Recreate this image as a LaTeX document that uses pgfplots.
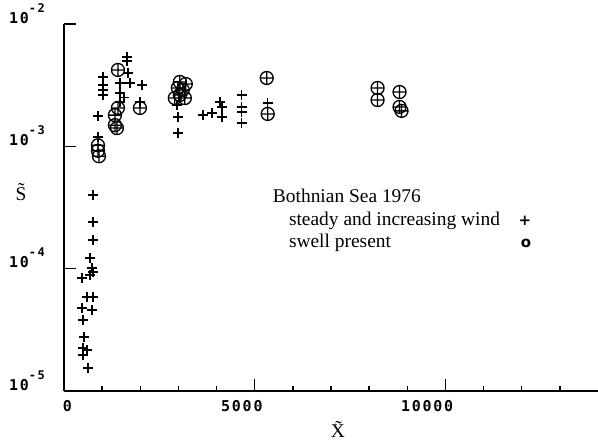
\documentclass[border=0pt]{standalone}
\usepackage{pgfplots}
\pgfplotsset{compat=1.18}
\usepackage{fontspec}
\setmainfont{Liberation Serif}
\newfontfamily\tickfont{DejaVu Sans Mono}[LetterSpace=12]
\newfontfamily\symfont{DejaVu Sans}
\newcommand\tkf{\tickfont\bfseries\fontsize{15}{15}\selectfont}
\newcommand\expo[1]{\raisebox{11bp}{\fontsize{12}{12}\selectfont #1}}
\newcommand\legf{\fontsize{19.5}{23}\selectfont}
\newcommand\symf{\symfont\bfseries\fontsize{15}{15}\selectfont}
\begin{document}
\begin{tikzpicture}
\begin{axis}[
  scale only axis, width=534bp, height=367bp,
  ymode=log, xmin=0, xmax=14000, ymin=1e-5, ymax=1e-2,
  axis lines*=left,
  axis line style={line width=1.6bp},
  tick style={line width=1.4bp, black},
  major tick length=12bp, minor tick length=5bp,
  scaled x ticks=false,
  xtick={0,5000,10000},
  minor xtick={1000,2000,3000,4000,6000,7000,8000,9000,11000,12000,13000},
  ytick={1e-5,1e-4,1e-3,1e-2}, yminorticks=false,
  xticklabels={{\tkf 0},{\tkf 5000},{\tkf 10000}},
  yticklabels={{\tkf 10\expo{-5}},{\tkf 10\expo{-4}},{\tkf 10\expo{-3}},{\tkf 10\expo{-2}}},
  xticklabel style={anchor=north east, inner sep=0pt, xshift=8bp, yshift=-9bp},
  yticklabel style={anchor=base east, inner sep=0pt, xshift=-19bp, yshift=1bp},
  clip=false,
]
\addplot[only marks, mark=+, mark size=5bp, line width=1.5bp, black] coordinates {
(759,4.0e-4) (759,2.40e-4) (759,1.71e-4) (681,1.22e-4) (733,1.01e-4)
(759,9.4e-5) (681,8.9e-5) (471,8.4e-5) (602,5.86e-5) (759,5.86e-5)
(471,4.76e-5) (733,4.58e-5) (497,3.80e-5) (524,2.76e-5) (497,2.24e-5)
(602,2.16e-5) (497,1.97e-5) (628,1.54e-5)
(890,1.77e-3) (890,1.19e-3)
(1021,3.69e-3) (1021,3.17e-3) (1021,2.89e-3) (1021,2.63e-3)
(1649,5.37e-3) (1649,5.0e-3) (1676,3.97e-3) (1466,3.29e-3) (1728,3.29e-3)
(2042,3.17e-3) (1466,2.73e-3) (1466,2.30e-3) (1570,2.5e-3) (1990,2.30e-3)
(2958,2.18e-3) (2985,1.74e-3) (2985,1.29e-3)
(3639,1.80e-3) (3875,1.87e-3) (4084,2.30e-3) (4136,2.10e-3) (4136,1.74e-3)
(4660,2.63e-3) (4660,2.10e-3) (4660,1.91e-3) (4660,1.55e-3)
(5341,2.26e-3)
};
\addplot[only marks, mark=oplus, mark size=6.5bp, line width=1.3bp, black] coordinates {
(890,1.02e-3) (890,9.2e-4) (916,8.3e-4)
(1414,4.21e-3) (1414,2.06e-3) (1990,2.06e-3)
(1335,1.80e-3) (1335,1.49e-3) (1388,1.41e-3)
(3037,3.36e-3) (3115,2.89e-3) (2985,3.0e-3) (3037,2.63e-3)
(3168,2.48e-3) (2906,2.48e-3) (3194,3.23e-3)
(5315,3.62e-3) (5341,1.84e-3)
(8221,3.0e-3) (8221,2.39e-3)
(8797,2.78e-3) (8797,2.10e-3) (8849,1.95e-3)
};
\node[anchor=base west, inner sep=0pt] at (axis description cs:0.391,0.515) {\legf Bothnian Sea 1976};
\node[anchor=base west, inner sep=0pt] at (axis description cs:0.421,0.452) {\legf steady and increasing wind};
\node[anchor=base west, inner sep=0pt] at (axis description cs:0.421,0.390) {\legf swell present};
\node[anchor=base, inner sep=0pt] at (axis description cs:0.863,0.452) {\symf +};
\node[anchor=base, inner sep=0pt] at (axis description cs:0.865,0.390) {\symf o};
\node[anchor=base, inner sep=0pt] at (axis description cs:-0.0805,0.52) {\legf\~S};
\node[anchor=base, inner sep=0pt] at (axis description cs:0.513,-0.128) {\legf\~X};
\end{axis}
\pgfresetboundingbox
\path[use as bounding box] ([shift={(-64bp,-53bp)}]current axis.south west) rectangle ([shift={(0bp,24bp)}]current axis.north east);
\end{tikzpicture}
\end{document}
